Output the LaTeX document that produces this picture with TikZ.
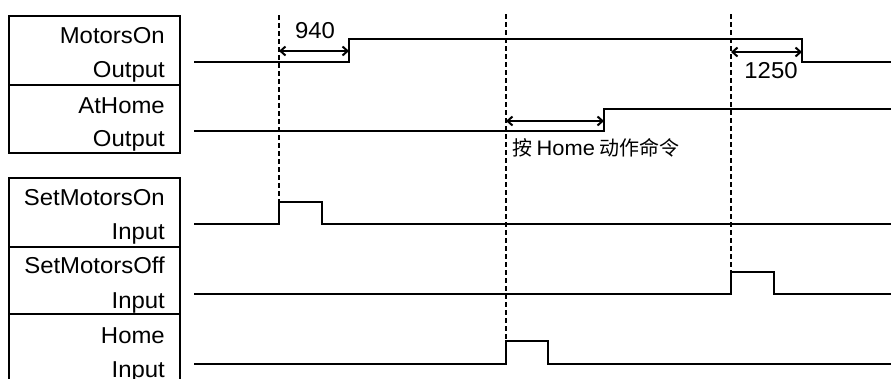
\documentclass[tikz,border=0pt]{standalone}
\usepackage{fontspec}
\setmainfont{Liberation Sans}[FakeStretch=1.04]
\newfontfamily\cjk{Noto Sans CJK SC}
\usetikzlibrary{arrows.meta}

\begin{document}
\begin{tikzpicture}[x=1pt,y=-1pt,
  lbl/.style={anchor=base east,inner sep=0pt,font=\fontsize{23}{26}\selectfont},
  num/.style={anchor=base,inner sep=0pt,font=\fontsize{23}{26}\selectfont},
  sig/.style={line width=1.8pt},
  frm/.style={line width=2pt},
  guide/.style={line width=1.1pt,dash pattern=on 5pt off 3pt},
  dim/.style={{Straight Barb[length=5pt,width=9pt]}-{Straight Barb[length=5pt,width=9pt]},line width=2pt}]
\useasboundingbox (0,0) rectangle (891,378);
% label boxes
\draw[frm] (9,16) rectangle (180,153) (9,85) -- (180,85);
\draw[frm] (9,380) -- (9,178) -- (180,178) -- (180,380) (9,247) -- (180,247) (9,314) -- (180,314);
\node[lbl] (mon) at (165,43) {MotorsOn};
\node[lbl] (monout) at (165,77) {Output};
\node[lbl] (ath) at (165,113) {AtHome};
\node[lbl] (athout) at (165,146) {Output};
\node[lbl] (smon) at (165,205) {SetMotorsOn};
\node[lbl] (smonin) at (165,239) {Input};
\node[lbl] (smoff) at (165,273) {SetMotorsOff};
\node[lbl] (smoffin) at (165,308) {Input};
\node[lbl] (hm) at (165,343) {Home};
\node[lbl] (hmin) at (165,377) {Input};
% event times
\coordinate (t1) at (279,15);
\coordinate (t2) at (506,14);
\coordinate (t3) at (731,14);
% signals
\draw[sig] (194,62) -- (349,62) -- (349,39) -- (802,39) -- (802,62) -- (891,62);
\draw[sig] (194,131) -- (604,131) -- (604,109) -- (891,109);
\draw[sig] (194,224) -- (279,224) -- (279,202) -- (322,202) -- (322,224) -- (891,224);
\draw[sig] (194,294) -- (731,294) -- (731,272) -- (774,272) -- (774,294) -- (891,294);
\draw[sig] (194,364) -- (506,364) -- (506,341) -- (548,341) -- (548,364) -- (891,364);
\draw[guide] (t1) -- (t1 |- 0,202);
\draw[guide] (t2) -- (t2 |- 0,341);
\draw[guide] (t3) -- (t3 |- 0,272);
% delays
\coordinate (d1) at (349,51);
\coordinate (d2) at (604,121);
\coordinate (d3) at (802,52);
\draw[dim] (t1 |- d1) -- (d1);
\draw[dim] (t2 |- d2) -- (d2);
\draw[dim] (t3 |- d3) -- (d3);
\node[num] (n940) at (315,38) {940};
\node[num] (n1250) at (771,78) {1250};
\node[anchor=base west,inner sep=0pt,font=\fontsize{20}{22}\selectfont] (cmd) at (512,155) {\cjk 按 {\rmfamily\fontsize{21}{22}\selectfont Home} 动作命令};
\end{tikzpicture}
\end{document}
